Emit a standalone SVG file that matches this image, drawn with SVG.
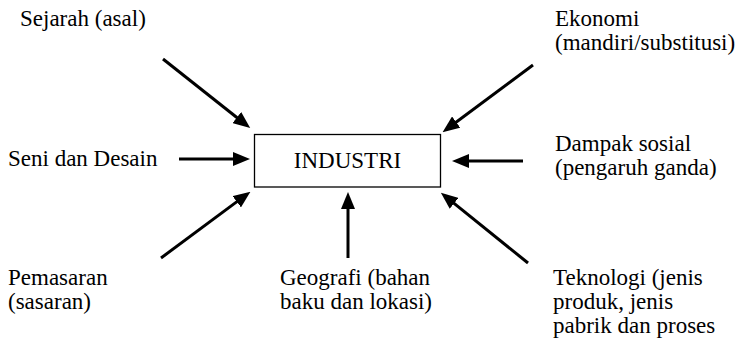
<svg xmlns="http://www.w3.org/2000/svg" width="736" height="345" viewBox="0 0 736 345">
<defs>
<style>
.box{fill:#fff;stroke:#000;stroke-width:1.3}
.conn{stroke:#000;stroke-width:3;fill:none;marker-end:url(#ah)}
</style>
<marker id="ah" markerUnits="userSpaceOnUse" markerWidth="17" markerHeight="14" refX="4" refY="7" orient="auto">
<path d="M0,0 L17,7 L0,14 z" fill="#000"/>
</marker>
</defs>
<rect width="736" height="345" fill="#fff"/>
<g id="connectors">
<line class="conn" x1="163" y1="59" x2="240" y2="120"/>
<line class="conn" x1="533" y1="65" x2="453" y2="124.5"/>
<line class="conn" x1="179" y1="159" x2="237" y2="159"/>
<line class="conn" x1="523" y1="161" x2="465" y2="161"/>
<line class="conn" x1="161" y1="258" x2="240" y2="199.4"/>
<line class="conn" x1="348" y1="258" x2="348" y2="205"/>
<line class="conn" x1="528" y1="263" x2="451" y2="200.8"/>
</g>
<g font-family="'Liberation Serif', 'Times New Roman', serif" font-size="23" fill="#000">
<g id="industri">
<rect class="box" x="254.5" y="134.5" width="186" height="52.5"/>
<text x="347.5" y="168" text-anchor="middle">INDUSTRI</text>
</g>
<g id="sejarah"><text x="20" y="26">Sejarah (asal)</text></g>
<g id="ekonomi"><text x="555" y="26">Ekonomi</text><text x="555" y="50">(mandiri/substitusi)</text></g>
<g id="seni"><text x="8" y="166">Seni dan Desain</text></g>
<g id="dampak"><text x="555" y="151">Dampak sosial</text><text x="555" y="175">(pengaruh ganda)</text></g>
<g id="pemasaran"><text x="8" y="285">Pemasaran</text><text x="8" y="309">(sasaran)</text></g>
<g id="geografi"><text x="280" y="285">Geografi (bahan</text><text x="280" y="309">baku dan lokasi)</text></g>
<g id="teknologi"><text x="553" y="285">Teknologi (jenis</text><text x="553" y="309">produk, jenis</text><text x="553" y="333">pabrik dan proses</text></g>
</g>
</svg>
